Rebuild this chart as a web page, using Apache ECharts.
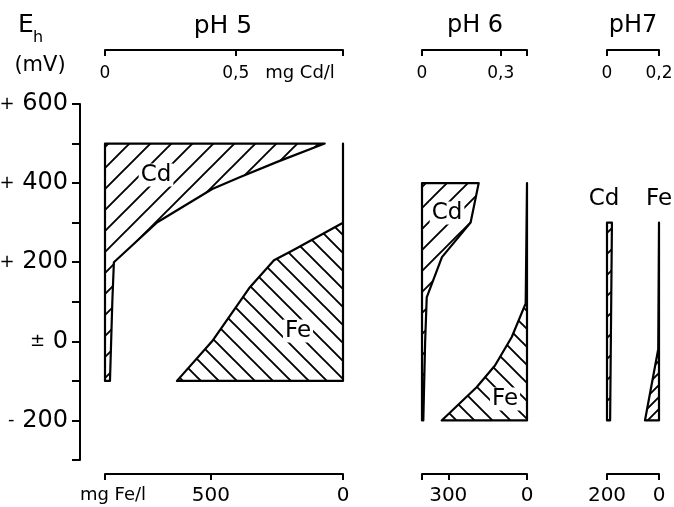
<!DOCTYPE html>
<html>
<head>
<meta charset="utf-8">
<script src="https://cdn.jsdelivr.net/npm/echarts@6/dist/echarts.min.js"></script>
<style>html,body{margin:0;padding:0;background:#fff}#c{width:674px;height:507px}</style>
</head>
<body>
<div id="c"></div>
<script>
// ---- data ----
const panelTitles = ['pH 5', 'pH 6', 'pH7'];
const ehTickValues = [600, 400, 200, 0, -200];
const ehTickSign = ['+', '+', '+', '±', '-'];
const ehTickText = ['600', '400', '200', '0', '200'];
// top axes (mg Cd/l)
const cdMax = [0.91, 0.4, 0.2];
const cdInterval = [0.5, 0.3, 0.2];
const cdTickText = [{0: '0', 0.5: '0,5'}, {0: '0', 0.3: '0,3'}, {0: '0', 0.2: '0,2'}];
// bottom axes (mg Fe/l, reversed)
const feMax = [900, 400, 200];
const feInterval = [500, 300, 200];
const feTickText = [{0: '0', 500: '500'}, {0: '0', 300: '300'}, {0: '0', 200: '200'}];
// polygons: [concentration, Eh (mV)]
const cdPH5 = [[0, 500], [0.84, 500], [0.656, 453], [0.515, 415], [0.41, 385], [0.20, 301], [0.034, 200], [0.028, 100], [0.019, -100], [0, -100]];
const fePH5 = [[0, 500], [0, 300], [182, 233], [261, 205], [352, 137], [495, 0], [628, -100], [0, -100]];
const cdPH6 = [[0, 400], [0.216, 400], [0.185, 300], [0.076, 213], [0.018, 111], [0.012, 0], [0.005, -200], [0, -200]];
const fePH6 = [[0, 400], [5, 96], [58, 11], [122, -61], [192, -116], [325, -200], [0, -200]];
const cdPH7 = [[0, 300], [0.019, 300], [0.012, -200], [0, -200]];
const fePH7 = [[0, 300], [3, -20], [54, -200], [0, -200]];

// ---- layout ----
const FONT = 'DejaVu Sans';
const gridLeft = [105, 422, 607];
const gridWidth = [238, 105, 52];
const GT = 104, GH = 356;

function hatch(dir, s) {
  const c = document.createElement('canvas');
  c.width = c.height = s;
  const g = c.getContext('2d');
  g.strokeStyle = '#000'; g.lineWidth = 1.9; g.beginPath();
  if (dir === '/') {
    g.moveTo(-2, s + 2); g.lineTo(s + 2, -2);
    g.moveTo(-2, 2); g.lineTo(2, -2);
    g.moveTo(s - 2, s + 2); g.lineTo(s + 2, s - 2);
  } else {
    g.moveTo(-2, -2); g.lineTo(s + 2, s + 2);
    g.moveTo(s - 2, -2); g.lineTo(s + 2, 2);
    g.moveTo(-2, s - 2); g.lineTo(2, s + 2);
  }
  g.stroke();
  return {image: c, repeat: 'repeat'};
}
const hatchCd = hatch('/', 21);
const hatchFe = hatch('\\', 18);
const hatchFe7 = hatch('/', 12);

const grids = [], xAxes = [], yAxes = [];
const blk = {color: '#000', width: 2};
for (let i = 0; i < 3; i++) {
  grids.push({left: gridLeft[i], width: gridWidth[i], top: GT, height: GH, outerBoundsMode: 'none', containLabel: false});
  xAxes.push({
    gridIndex: i, type: 'value', position: 'top', offset: 54, min: 0, max: cdMax[i], interval: cdInterval[i],
    axisLine: {show: true, onZero: false, lineStyle: blk},
    axisTick: {show: true, inside: true, length: 6, lineStyle: blk},
    axisLabel: {inside: true, margin: 15, color: '#000', fontSize: 17, fontFamily: FONT,
      showMinLabel: true, showMaxLabel: true,
      formatter: v => { const k = Math.round(v * 100) / 100; return cdTickText[i][k] !== undefined ? cdTickText[i][k] : ''; }},
    splitLine: {show: false}
  });
  xAxes.push({
    gridIndex: i, type: 'value', position: 'bottom', offset: 14, inverse: true, min: 0, max: feMax[i], interval: feInterval[i],
    axisLine: {show: true, onZero: false, lineStyle: blk},
    axisTick: {show: true, length: 6, lineStyle: blk},
    axisLabel: {margin: 12, color: '#000', fontSize: 20, fontFamily: FONT,
      showMinLabel: true, showMaxLabel: true,
      formatter: v => feTickText[i][v] !== undefined ? feTickText[i][v] : ''},
    splitLine: {show: false}
  });
  yAxes.push({
    gridIndex: i, type: 'value', min: -300, max: 600, interval: 100, show: i === 0,
    position: 'left', offset: 25,
    axisLine: {show: true, onZero: false, lineStyle: blk},
    axisTick: {show: true, length: 8, lineStyle: blk},
    axisLabel: {margin: 12, color: '#000', fontSize: 24, fontFamily: FONT,
      formatter: v => { const j = ehTickValues.indexOf(v); return j >= 0 ? '{s|' + ehTickSign[j] + '} ' + ehTickText[j] : ''; },
      rich: {s: {fontSize: 18, fontFamily: FONT, color: '#000'}}},
    splitLine: {show: false}
  });
}

function poly(points, xi, yi, fill) {
  return {
    type: 'custom', coordinateSystem: 'cartesian2d', xAxisIndex: xi, yAxisIndex: yi,
    data: points, silent: true, clip: false,
    renderItem: function (params, api) {
      if (params.dataIndex !== 0) return null;
      const pts = points.map(p => api.coord(p));
      return {type: 'polygon', shape: {points: pts},
        style: {fill: fill, stroke: '#000', lineWidth: 2.2, lineJoin: 'round'}};
    }
  };
}

function txt(t, x, y, size, opts) {
  return Object.assign({type: 'text', x: x, y: y, silent: true,
    style: {text: t, fill: '#000', font: size + 'px "' + FONT + '"', align: 'center', verticalAlign: 'middle'}}, opts || {});
}
function lbl(t, x, y) {
  return {type: 'text', x: x, y: y, silent: true, z: 100,
    style: {text: t, fill: '#000', font: '23px "' + FONT + '"', align: 'center', verticalAlign: 'middle',
      backgroundColor: '#fff', padding: [0, 2]}};
}

const option = {
  animation: false,
  backgroundColor: '#fff',
  grid: grids,
  xAxis: xAxes,
  yAxis: yAxes,
  series: [
    poly(cdPH5, 0, 0, hatchCd),
    poly(fePH5, 1, 0, hatchFe),
    poly(cdPH6, 2, 1, hatchCd),
    poly(fePH6, 3, 1, hatchFe),
    poly(cdPH7, 4, 2, hatchCd),
    poly(fePH7, 5, 2, hatchFe7)
  ],
  graphic: [
    txt('E', 26, 25, 25),
    txt('h', 38, 38, 16),
    txt('(mV)', 40, 66, 21),
    txt(panelTitles[0], 223, 26, 25),
    txt(panelTitles[1], 475, 26, 24),
    txt(panelTitles[2], 633, 26, 24),
    txt('mg Cd/l', 300, 73, 18),
    txt('mg Fe/l', 113, 495, 18),
    lbl('Cd', 156, 175),
    lbl('Fe', 298, 331),
    lbl('Cd', 447, 213),
    lbl('Fe', 505, 399),
    txt('Cd', 604, 199, 23),
    txt('Fe', 659, 199, 23)
  ]
};
const chart = echarts.init(document.getElementById('c'), null, {renderer: 'canvas', width: 674, height: 507});
chart.setOption(option);
</script>
</body>
</html>
